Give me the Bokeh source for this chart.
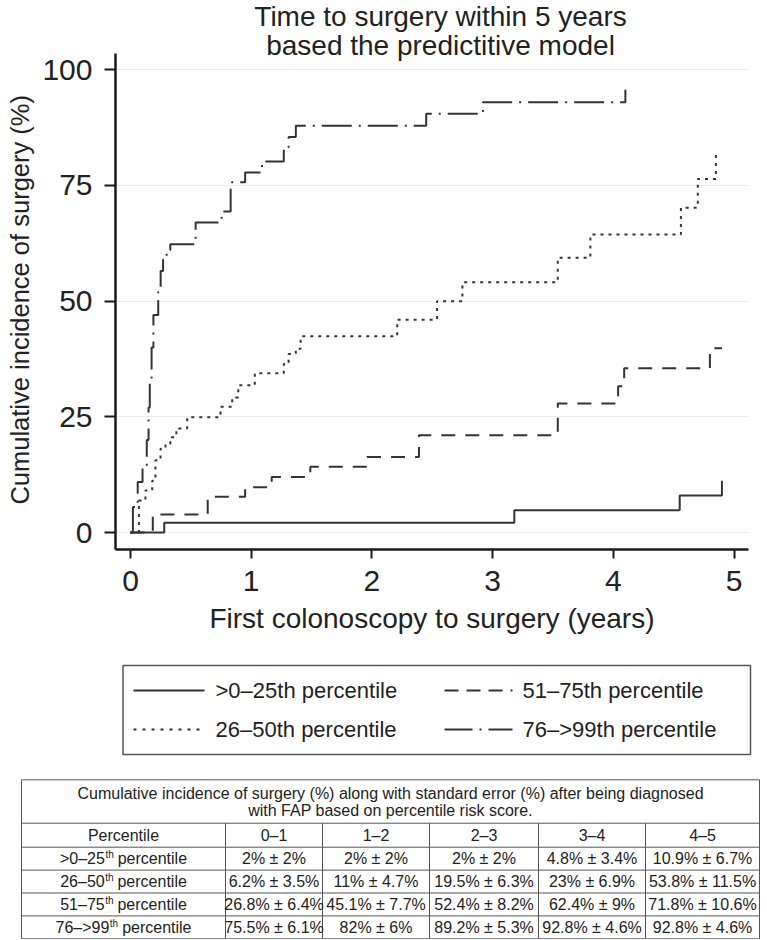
from bokeh.plotting import figure
from bokeh.models import Range1d, FixedTicker
from bokeh.layouts import column
from bokeh.embed import file_html
from bokeh.resources import INLINE
from bokeh.core.properties import value

FONT = "Liberation Sans"
TXT = "#222222"
LINE = "#333333"
W = 767

# ---------------- data ----------------
title_lines = ["Time to surgery within 5 years", "based the predictitive model"]
x_label = "First colonoscopy to surgery (years)"
y_label = "Cumulative incidence of surgery (%)"
x_ticks = [0, 1, 2, 3, 4, 5]
y_ticks = [0, 25, 50, 75, 100]

series_names = [">0–25th percentile", "26–50th percentile",
                "51–75th percentile", "76–>99th percentile"]

q1_t = [0, 0.28, 3.18, 4.55, 4.90]
q1_s = [0, 2.1, 4.8, 8.0, 11.2]

q2_t = [0, 0.07, 0.124, 0.18, 0.207, 0.249, 0.29, 0.33, 0.38, 0.47, 0.746, 0.843,
        0.893, 1.03, 1.27, 1.31, 1.37, 1.41, 2.21, 2.54, 2.75, 3.54, 3.81, 4.56,
        4.70, 4.85]
q2_s = [0, 6.9, 9.1, 11.2, 15.6, 18.1, 19.2, 20.6, 22.5, 24.9, 27.2, 29.2,
        31.8, 34.4, 36.4, 38.6, 39.7, 42.4, 46.0, 50.0, 54.1, 59.4, 64.4, 70.2,
        76.4, 82.0]

q3_t = [0, 0.185, 0.64, 0.95, 1.17, 1.49, 1.96, 2.39, 3.54, 4.04, 4.09, 4.80, 4.90]
q3_s = [0, 3.9, 7.7, 9.8, 12.0, 14.2, 16.3, 21.0, 27.9, 31.6, 35.5, 39.8, 39.8]

q4_t = [0, 0.02, 0.06, 0.10, 0.135, 0.15, 0.16, 0.175, 0.19, 0.23, 0.25, 0.27,
        0.30, 0.33, 0.54, 0.755, 0.83, 0.95, 1.09, 1.27, 1.31, 1.37, 2.45, 2.92, 4.10]
q4_s = [0, 5.5, 10.9, 13.9, 20, 27, 33, 40, 47, 52, 56.5, 59,
        61, 62.3, 67, 69.4, 75.7, 77.8, 80.2, 83.2, 85.5, 87.9, 90.5, 93.0, 95.7]

table_caption = ["Cumulative incidence of surgery (%) along with standard error (%) after being diagnosed",
                 "with FAP based on percentile risk score."]
table_head = ["Percentile", "0–1", "1–2", "2–3", "3–4", "4–5"]
row_base = [">0–25", "26–50", "51–75", "76–>99"]
row_cells = [
    ["2% ± 2%", "2% ± 2%", "2% ± 2%", "4.8% ± 3.4%", "10.9% ± 6.7%"],
    ["6.2% ± 3.5%", "11% ± 4.7%", "19.5% ± 6.3%", "23% ± 6.9%", "53.8% ± 11.5%"],
    ["26.8% ± 6.4%", "45.1% ± 7.7%", "52.4% ± 8.2%", "62.4% ± 9%", "71.8% ± 10.6%"],
    ["75.5% ± 6.1%", "82% ± 6%", "89.2% ± 5.3%", "92.8% ± 4.6%", "92.8% ± 4.6%"],
]

# ---------------- styles ----------------
dashes = ["solid", "3 5", "14 10", "30 7 2 7"]
leg_dashes = ["solid", "3 6", "14 8", "28 7 2 7"]
series = [(q1_t, q1_s), (q2_t, q2_s), (q3_t, q3_s), (q4_t, q4_s)]

# ---------------- chart (frame reaches the top so the title fits inside) ----
CH = 650            # chart figure height (px)
F_BOTTOM = 549      # frame bottom (px from top)
PX_PER_UNIT = 4.627
Y0_PX = 532         # pixel row of y = 0
y_min = -(F_BOTTOM - Y0_PX) / PX_PER_UNIT
y_max = Y0_PX / PX_PER_UNIT
y_axis_top = (Y0_PX - 53) / PX_PER_UNIT


def y_at(px):
    return (Y0_PX - px) / PX_PER_UNIT


p = figure(width=W, height=CH, x_range=Range1d(-0.124, 5.12),
           y_range=Range1d(y_min, y_max), output_backend="svg",
           toolbar_location=None, min_border_left=115, min_border_right=19,
           min_border_top=0, min_border_bottom=CH - F_BOTTOM)
p.frame_align = False
p.outline_line_color = None
p.xgrid.grid_line_color = None
p.ygrid.grid_line_color = "#ececec"
p.ygrid.grid_line_width = 1
p.xaxis.ticker = FixedTicker(ticks=x_ticks)
p.yaxis.ticker = FixedTicker(ticks=y_ticks)
p.yaxis.bounds = (y_min, y_axis_top)
for ax in (p.xaxis[0], p.yaxis[0]):
    ax.axis_line_width = 2.5
    ax.axis_line_color = "#1a1a1a"
    ax.major_tick_line_width = 2
    ax.major_tick_line_color = "#1a1a1a"
    ax.major_tick_in = 0
    ax.minor_tick_line_color = None
    ax.major_label_text_font = FONT
    ax.major_label_text_font_size = "30px"
    ax.major_label_text_color = TXT
    ax.axis_label_text_font = FONT
    ax.axis_label_text_font_style = "normal"
    ax.axis_label_text_color = TXT
p.xaxis.axis_label_text_font_size = "28px"
p.yaxis.axis_label_text_font_size = "25.5px"
p.xaxis.major_tick_out = 9
p.yaxis.major_tick_out = 11
p.xaxis.major_label_standoff = 12
p.yaxis.major_label_standoff = 12
p.xaxis.axis_label_standoff = 9
p.yaxis.axis_label_standoff = 5
p.xaxis.axis_label = x_label
# trailing no-break spaces move the visible label down to the middle of the
# axis line (the frame also holds the title above the axis)
p.yaxis.axis_label = y_label + "\u00a0" * 7
p.yaxis.major_label_orientation = "horizontal"

for (tt, s), d in zip(series, dashes):
    p.step(x=tt, y=s, mode="after", line_color=LINE, line_width=2, line_dash=d)

title_x = -0.124 + (440 - 115) / 120.7
p.text(x=[title_x, title_x], y=[y_at(16), y_at(45)], text=title_lines,
       text_font=value(FONT), text_font_size="28px", text_color=TXT,
       text_align="center", text_baseline="middle")

# ---------------- legend + table (pixel canvas) ----------------
QH = 289
q = figure(width=W, height=QH, x_range=Range1d(0, W), y_range=Range1d(QH, 0),
           output_backend="svg", toolbar_location=None, min_border=0)
q.axis.visible = False
q.grid.visible = False
q.outline_line_color = None
q.frame_align = False

lb_l, lb_r, lb_t, lb_b = 122.5, 750, 15, 104
q.quad(left=[lb_l], right=[lb_r], top=[lb_t], bottom=[lb_b], fill_color=None,
       line_color="#555555", line_width=1.5)
leg_rows = [40, 79]
leg_cols = [(133, 204, 215), (444, 512, 522)]
for i, (name, d) in enumerate(zip(series_names, leg_dashes)):
    c0, c1, tx = leg_cols[i // 2]
    yy = leg_rows[i % 2]
    q.line(x=[c0, c1], y=[yy, yy], line_color=LINE, line_width=2, line_dash=d)
    q.text(x=[tx], y=[yy], text=[name], text_font=value(FONT),
           text_font_size="22px", text_color=TXT, text_baseline="middle",
           text_align="left")

col_x = [21, 225, 322, 429, 538, 645, 759]
t_top, cap_sep, head_sep, t_bot = 129.3, 172.7, 196.7, 288.3
row_h = (t_bot - head_sep) / 4
row_lines = [head_sep + row_h * k for k in range(5)]
hx0, hx1, hy0, hy1 = [], [], [], []
for yy in [t_top, cap_sep] + row_lines:
    hx0.append(col_x[0]); hx1.append(col_x[-1]); hy0.append(yy); hy1.append(yy)
for k, xx in enumerate(col_x):
    top = t_top if k in (0, len(col_x) - 1) else cap_sep
    hx0.append(xx); hx1.append(xx); hy0.append(top); hy1.append(row_lines[-1])
q.segment(x0=hx0, y0=hy0, x1=hx1, y1=hy1, line_color="#555555", line_width=1)

cx_tab = (col_x[0] + col_x[-1]) / 2
q.text(x=[cx_tab, cx_tab], y=[143, 160], text=table_caption,
       text_font=value(FONT), text_font_size="16px", text_color=TXT,
       text_align="center", text_baseline="middle")
col_c = [(col_x[k] + col_x[k + 1]) / 2 for k in range(6)]
q.text(x=col_c, y=[(cap_sep + head_sep) / 2] * 6, text=table_head,
       text_font=value(FONT), text_font_size="16px", text_color=TXT,
       text_align="center", text_baseline="middle")

# approximate Liberation Sans advance widths (em) for centring row labels
adv = {">": .584, "–": .556, " ": .278, "p": .556, "e": .556, "r": .333,
       "c": .5, "n": .556, "t": .278, "i": .222, "l": .222, "h": .556}


def width(s, fs):
    return sum(adv.get(ch, .556) for ch in s) * fs


for r in range(4):
    yy = row_lines[r] + row_h / 2
    base, sup, rest = row_base[r], "th", "percentile"
    gap = width(" ", 16)
    wtot = width(base, 16) + width(sup, 10) + gap + width(rest, 16)
    x0 = col_c[0] - wtot / 2
    x1 = x0 + width(base, 16)
    x2 = x1 + width(sup, 10) + gap
    q.text(x=[x0, x2], y=[yy, yy], text=[base, rest], text_font=value(FONT),
           text_font_size="16px", text_color=TXT, text_align="left",
           text_baseline="middle")
    q.text(x=[x1 + 0.5], y=[yy - 4], text=[sup], text_font=value(FONT),
           text_font_size="10px", text_color=TXT, text_align="left",
           text_baseline="middle")
    q.text(x=col_c[1:], y=[yy] * 5, text=row_cells[r], text_font=value(FONT),
           text_font_size="16px", text_color=TXT, text_align="center",
           text_baseline="middle")

layout = column(p, q, spacing=0)
open("out.html", "w").write(file_html(layout, INLINE))
